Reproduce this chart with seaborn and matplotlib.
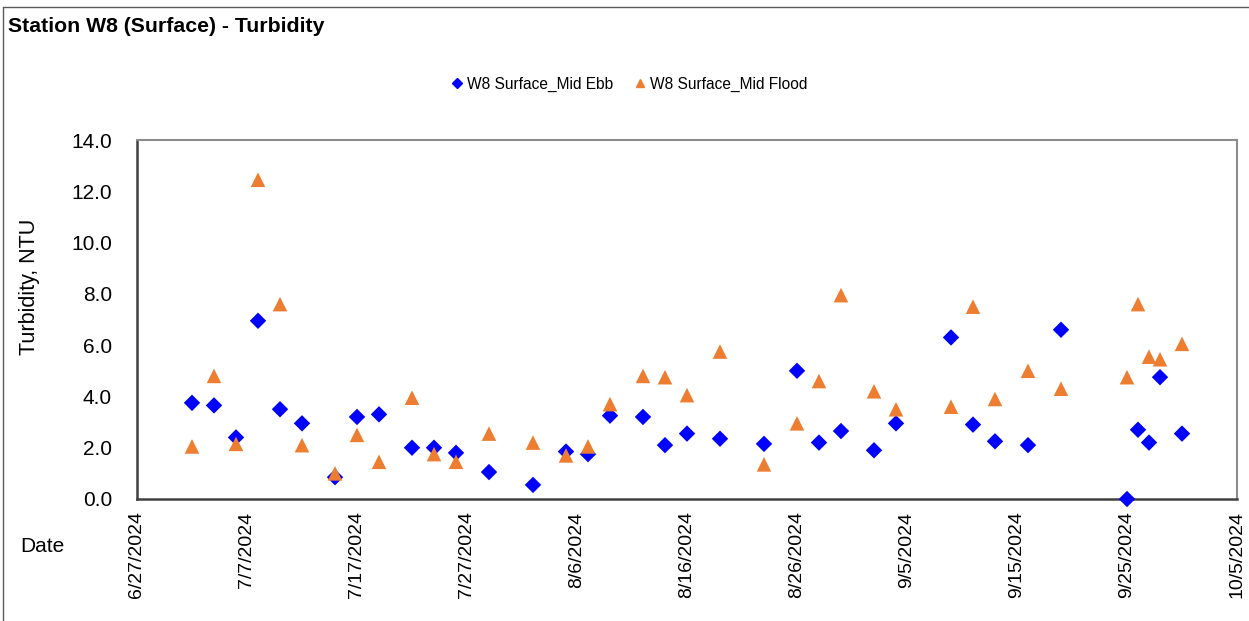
import pandas as pd
import matplotlib
matplotlib.use('Agg')
import matplotlib.pyplot as plt
from matplotlib.lines import Line2D
import seaborn as sns

# sample dates (same for both tides)
dates = ['2024-07-02', '2024-07-04', '2024-07-06', '2024-07-08', '2024-07-10', '2024-07-12',
         '2024-07-15', '2024-07-17', '2024-07-19', '2024-07-22', '2024-07-24', '2024-07-26',
         '2024-07-29', '2024-08-02', '2024-08-05', '2024-08-07', '2024-08-09', '2024-08-12',
         '2024-08-14', '2024-08-16', '2024-08-19', '2024-08-23', '2024-08-26', '2024-08-28',
         '2024-08-30', '2024-09-02', '2024-09-04', '2024-09-09', '2024-09-11', '2024-09-13',
         '2024-09-16', '2024-09-19', '2024-09-25', '2024-09-26', '2024-09-27', '2024-09-28',
         '2024-09-30']
ebb = [3.75, 3.65, 2.4, 6.95, 3.5, 2.95, 0.85, 3.2, 3.3, 2.0, 2.0, 1.8, 1.05,
       0.55, 1.85, 1.75, 3.25, 3.2, 2.1, 2.55, 2.35, 2.15, 5.0, 2.2, 2.65,
       1.9, 2.95, 6.3, 2.9, 2.25, 2.1, 6.6, 0.0, 2.7, 2.2, 4.75, 2.55]
flood = [2.05, 4.8, 2.15, 12.45, 7.6, 2.1, 1.0, 2.5, 1.45, 3.95, 1.75, 1.45, 2.55,
         2.2, 1.7, 2.05, 3.7, 4.8, 4.75, 4.05, 5.75, 1.35, 2.95, 4.6, 7.95,
         4.2, 3.5, 3.6, 7.5, 3.9, 5.0, 4.3, 4.75, 7.6, 5.55, 5.45, 6.05]
ebb_label = 'W8 Surface_Mid Ebb'
flood_label = 'W8 Surface_Mid Flood'

df = pd.DataFrame({'Date': pd.to_datetime(dates), 'Ebb': ebb, 'Flood': flood})

sns.set_style('white')
plt.rcParams['font.family'] = ['Liberation Sans', 'DejaVu Sans']
plt.rcParams['text.color'] = 'black'
plt.rcParams['xtick.color'] = 'black'
plt.rcParams['ytick.color'] = 'black'

fig = plt.figure(figsize=(12.49, 6.21), dpi=100)
ax = fig.add_axes([137 / 1249, 1 - 499 / 621, 1100 / 1249, 359 / 621])

sns.scatterplot(x='Date', y='Ebb', data=df, color='#0000FF', marker='D', s=70,
                edgecolor='none', clip_on=False, zorder=3, ax=ax)
sns.scatterplot(x='Date', y='Flood', data=df, color='#ED7D31', marker='^', s=110,
                edgecolor='none', clip_on=False, zorder=3, ax=ax)

ax.set_xlim(pd.Timestamp('2024-06-27'), pd.Timestamp('2024-10-05'))
ax.set_ylim(0, 14)
ticks = pd.date_range('2024-06-27', '2024-10-05', freq='10D')
ax.set_xticks(ticks)
ax.set_xticklabels([f'{d.month}/{d.day}/{d.year}' for d in ticks], rotation=90, fontsize=14)
ax.set_yticks(range(0, 15, 2))
ax.set_yticklabels([f'{v:.1f}' for v in range(0, 15, 2)], fontsize=15)
ax.tick_params(axis='x', direction='in', length=6, width=1, color='#404040', pad=9)
ax.tick_params(axis='y', direction='in', length=6, width=1, color='#404040', pad=18)
ax.set_xlabel('')
ax.set_ylabel('')

for side in ['bottom', 'left']:
    ax.spines[side].set_color('#404040')
    ax.spines[side].set_linewidth(1.8)
for side in ['top', 'right']:
    ax.spines[side].set_color('#8c8c8c')
    ax.spines[side].set_linewidth(1.5)

fig.text(29 / 1249, 1 - 287 / 621, 'Turbidity, NTU', rotation=90, fontsize=15.5,
         ha='center', va='center')
fig.text(20 / 1249, 1 - 546 / 621, 'Date', fontsize=15, ha='left', va='center')
fig.text(8 / 1249, 1 - 27 / 621, 'Station W8 (Surface) - Turbidity', fontsize=15.3,
         fontweight='bold', ha='left', va='center')

handles = [Line2D([], [], color='#0000FF', marker='D', linestyle='none', markersize=5),
           Line2D([], [], color='#ED7D31', marker='^', linestyle='none', markersize=6)]
fig.legend(handles, [ebb_label, flood_label], loc='center', ncol=2, frameon=False,
           bbox_to_anchor=(628 / 1249, 1 - 84 / 621), fontsize=11.2,
           handletextpad=0.15, columnspacing=1.2, handlelength=1.0)

# chart area border
fig.add_artist(Line2D([3 / 1249, 1], [1 - 7 / 621, 1 - 7 / 621], color='#595959', lw=1))
fig.add_artist(Line2D([3 / 1249, 3 / 1249], [0, 1 - 7 / 621], color='#595959', lw=1))

fig.savefig('out.png', dpi=100)
